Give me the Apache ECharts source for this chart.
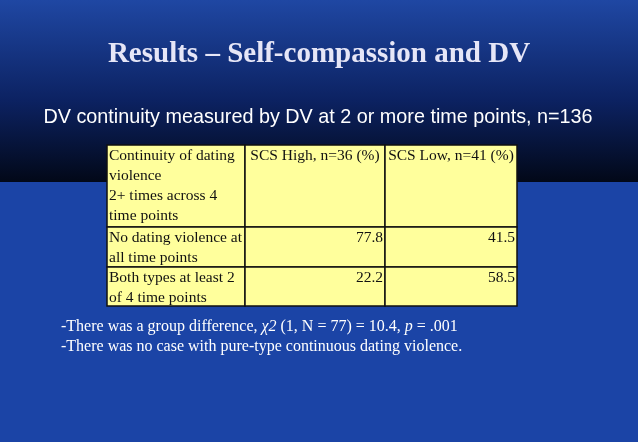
<!DOCTYPE html>
<html>
<head>
<meta charset="utf-8">
<script src="https://cdn.jsdelivr.net/npm/echarts@6/dist/echarts.min.js"></script>
<style>html,body{margin:0;padding:0;background:#1b44a6}#main{width:638px;height:442px}</style>
</head>
<body>
<div id="main"></div>
<script>
var title = 'Results – Self-compassion and DV';
var subtitle = 'DV continuity measured by DV at 2 or more time points, n=136';
var headers = ['Continuity of dating\nviolence\n2+ times across 4\ntime points', 'SCS High, n=36 (%)', 'SCS Low, n=41 (%)'];
var rowLabels = ['No dating violence at\nall time points', 'Both types at least 2\nof 4 time points'];
var scsHigh = [77.8, 22.2];
var scsLow = [41.5, 58.5];
var notes = [
    '-There was a group difference, {i|χ2} (1, N = 77) = 10.4, {i|p} = .001',
    '-There was no case with pure-type continuous dating violence.'
];

var chart = echarts.init(document.getElementById('main'));

var colX = [107, 245, 385, 517];
var rowY = [145, 227, 267, 306];
var serif = '"Liberation Serif", "DejaVu Serif", serif';

var elements = [
    // background
    { type: 'rect', shape: { x: 0, y: 0, width: 638, height: 442 }, style: { fill: '#1b44a6' } },
    { type: 'rect', shape: { x: 0, y: 0, width: 638, height: 182 },
      style: { fill: new echarts.graphic.LinearGradient(0, 0, 0, 1, [
          { offset: 0, color: '#1f47a3' }, { offset: 0.55, color: '#0c2262' }, { offset: 1, color: '#020818' }]) } },
    { type: 'text', x: 319, y: 55, style: { text: title, fill: '#e6e6f7', font: 'bold 29px ' + serif,
      align: 'center', verticalAlign: 'middle', shadowColor: '#000', shadowBlur: 2, shadowOffsetX: 2, shadowOffsetY: 2 } },
    { type: 'text', x: 318, y: 118, style: { text: subtitle, fill: '#ffffff', font: '19.8px "Liberation Sans", Arial, sans-serif',
      align: 'center', verticalAlign: 'middle' } }
];

// table cells
var cells = [[headers[0], headers[1], headers[2]]];
for (var i = 0; i < rowLabels.length; i++) {
    cells.push([rowLabels[i], String(scsHigh[i]), String(scsLow[i])]);
}
for (var r = 0; r < cells.length; r++) {
    for (var c = 0; c < 3; c++) {
        var x0 = colX[c], x1 = colX[c + 1], y0 = rowY[r], y1 = rowY[r + 1];
        elements.push({ type: 'rect', shape: { x: x0, y: y0, width: x1 - x0, height: y1 - y0 },
            style: { fill: '#ffff9c', stroke: '#111', lineWidth: 1.5 } });
        var right = r > 0 && c > 0;
        var center = r === 0 && c > 0;
        elements.push({ type: 'text', x: right ? x1 - 2 : (center ? (x0 + x1) / 2 : x0 + 2), y: y0 + 1,
            style: { text: cells[r][c], fill: '#111', font: '15.5px ' + serif, lineHeight: 20,
                align: right ? 'right' : (center ? 'center' : 'left'), verticalAlign: 'top' } });
    }
}

for (var k = 0; k < notes.length; k++) {
    elements.push({ type: 'text', x: 61, y: 327 + k * 20, style: { text: notes[k], fill: '#ffffff',
        font: '16px ' + serif, verticalAlign: 'middle',
        rich: { i: { fill: '#ffffff', font: 'italic 16px ' + serif } } } });
}

option = {
    animation: false,
    graphic: { elements: elements }
};

chart.setOption(option);
</script>
</body>
</html>
